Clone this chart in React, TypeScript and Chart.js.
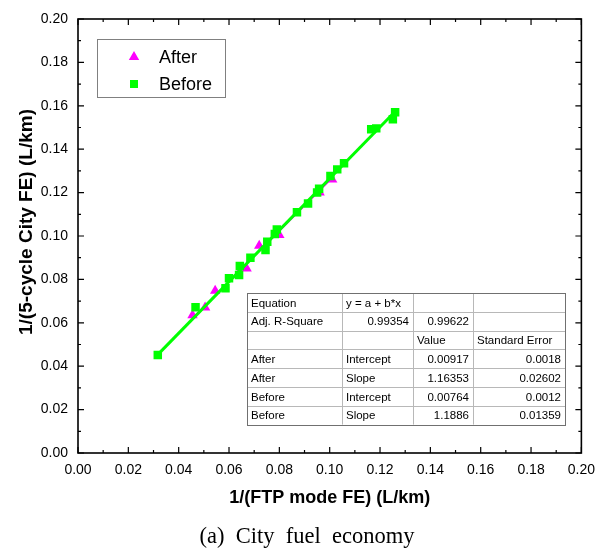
import React, { useEffect, useRef } from 'react';
import { Chart, registerables } from 'chart.js';

Chart.register(...registerables);

// ---- data ----
const afterX = [0.0455, 0.0505, 0.0545, 0.0635, 0.067, 0.072, 0.08, 0.096, 0.101];
const afterY = [0.0635, 0.067, 0.0748, 0.082, 0.085, 0.0955, 0.1005, 0.12, 0.126];

const beforeX = [0.0317, 0.0467, 0.0586, 0.06, 0.064, 0.0643, 0.0685, 0.0745, 0.0752, 0.0782, 0.079, 0.087, 0.0914, 0.095, 0.0958, 0.1003, 0.103, 0.1057, 0.1165, 0.1185, 0.1251, 0.126];
const beforeY = [0.0452, 0.0672, 0.0759, 0.0805, 0.082, 0.0862, 0.09, 0.0935, 0.0974, 0.1009, 0.103, 0.1109, 0.115, 0.12, 0.1218, 0.1276, 0.1307, 0.1335, 0.1492, 0.1496, 0.1538, 0.157];

const seriesNames = ['After', 'Before'];
const fitIntercept = [0.00917, 0.00764];
const fitSlope = [1.16353, 1.1886];
const fitInterceptSE = ['0.0018', '0.0012'];
const fitSlopeSE = ['0.02602', '0.01359'];
const adjR2 = ['0.99354', '0.99622'];

const xTickValues = [0, 0.02, 0.04, 0.06, 0.08, 0.1, 0.12, 0.14, 0.16, 0.18, 0.2];

const xTitle = '1/(FTP mode FE) (L/km)';
const yTitle = '1/(5-cycle City FE) (L/km)';
const caption = '(a)  City  fuel  economy';

const tableRows: string[][] = [
  ['Equation', 'y = a + b*x', '', ''],
  ['Adj. R-Square', adjR2[0], adjR2[1], ''],
  ['', '', 'Value', 'Standard Error'],
  [seriesNames[0], 'Intercept', fitIntercept[0].toString(), fitInterceptSE[0]],
  [seriesNames[0], 'Slope', fitSlope[0].toString(), fitSlopeSE[0]],
  [seriesNames[1], 'Intercept', fitIntercept[1].toString(), fitInterceptSE[1]],
  [seriesNames[1], 'Slope', fitSlope[1].toString(), fitSlopeSE[1]],
];

const GREEN = '#00FF00';
const MAGENTA = '#FF00FF';
const SANS = '"Liberation Sans", Arial, sans-serif';
const SERIF = '"Liberation Serif", "Times New Roman", serif';

const pts = (xs: number[], ys: number[]) => xs.map((x, i) => ({ x, y: ys[i] }));
const fitLine = (xs: number[], k: number) => {
  const lo = Math.min(...xs);
  const hi = Math.max(...xs);
  return [
    { x: lo, y: fitIntercept[k] + fitSlope[k] * lo },
    { x: hi, y: fitIntercept[k] + fitSlope[k] * hi },
  ];
};

function drawTri(ctx: CanvasRenderingContext2D, x: number, y: number, r: number) {
  ctx.beginPath();
  ctx.moveTo(x, y - r);
  ctx.lineTo(x + r * Math.sin(Math.PI / 3), y + r * 0.5);
  ctx.lineTo(x - r * Math.sin(Math.PI / 3), y + r * 0.5);
  ctx.closePath();
  ctx.fill();
}

const decorPlugin = {
  id: 'decor',
  afterDraw(chart: any) {
    const ctx: CanvasRenderingContext2D = chart.ctx;
    const { left, right, top, bottom } = chart.chartArea;
    const xs = chart.scales.x;
    const ys = chart.scales.y;
    ctx.save();
    // frame
    ctx.strokeStyle = '#000';
    ctx.lineWidth = 1.6;
    ctx.strokeRect(left, top, right - left, bottom - top);
    // ticks (inward)
    ctx.lineWidth = 1.2;
    ctx.beginPath();
    for (let i = 0; i <= 20; i++) {
      const v = i * 0.01;
      const len = i % 2 === 0 ? 6 : 3;
      const px = xs.getPixelForValue(v);
      ctx.moveTo(px, bottom); ctx.lineTo(px, bottom - len);
      ctx.moveTo(px, top); ctx.lineTo(px, top + len);
      const py = ys.getPixelForValue(v);
      ctx.moveTo(left, py); ctx.lineTo(left + len, py);
      ctx.moveTo(right, py); ctx.lineTo(right - len, py);
    }
    ctx.stroke();

    // axis titles
    ctx.fillStyle = '#000';
    ctx.font = `bold 18px ${SANS}`;
    ctx.textAlign = 'center';
    ctx.textBaseline = 'middle';
    ctx.fillText(xTitle, (left + right) / 2, 498);
    ctx.save();
    ctx.translate(27, 222);
    ctx.rotate(-Math.PI / 2);
    ctx.font = `bold 19px ${SANS}`;
    ctx.fillText(yTitle, 0, 0);
    ctx.restore();

    // caption
    ctx.font = `22.5px ${SERIF}`;
    ctx.fillText(caption, 307, 537);

    // legend
    ctx.fillStyle = '#fff';
    ctx.fillRect(97, 39, 129, 59);
    ctx.strokeStyle = '#808080';
    ctx.lineWidth = 1;
    ctx.strokeRect(97.5, 39.5, 128, 58);
    ctx.fillStyle = MAGENTA;
    drawTri(ctx, 134, 57, 6);
    ctx.fillStyle = GREEN;
    ctx.fillRect(130, 80, 8, 8);
    ctx.fillStyle = '#000';
    ctx.font = `18px ${SANS}`;
    ctx.textAlign = 'left';
    ctx.fillText(seriesNames[0], 159, 58);
    ctx.fillText(seriesNames[1], 159, 85);

    // table
    const colX = [247, 342, 413, 473, 565];
    const tTop = 293;
    const rowH = 18.8;
    const nR = tableRows.length;
    ctx.fillStyle = '#fff';
    ctx.fillRect(colX[0], tTop, colX[4] - colX[0], rowH * nR);
    ctx.strokeStyle = '#b8b8b8';
    ctx.lineWidth = 1;
    ctx.beginPath();
    for (let r = 1; r < nR; r++) {
      const y = Math.round(tTop + r * rowH) + 0.5;
      ctx.moveTo(colX[0], y); ctx.lineTo(colX[4], y);
    }
    for (let c = 1; c < 4; c++) {
      ctx.moveTo(colX[c] + 0.5, tTop); ctx.lineTo(colX[c] + 0.5, tTop + rowH * nR);
    }
    ctx.stroke();
    ctx.strokeStyle = '#707070';
    ctx.strokeRect(colX[0] + 0.5, tTop + 0.5, colX[4] - colX[0], Math.round(rowH * nR));
    ctx.font = `11.5px ${SANS}`;
    ctx.fillStyle = '#000';
    for (let r = 0; r < nR; r++) {
      for (let c = 0; c < 4; c++) {
        const t = tableRows[r][c];
        if (!t) continue;
        const numeric = /^[0-9.]+$/.test(t);
        const cy = tTop + r * rowH + rowH / 2 + 1;
        if (numeric) {
          ctx.textAlign = 'right';
          ctx.fillText(t, colX[c + 1] - 4, cy);
        } else {
          ctx.textAlign = 'left';
          ctx.fillText(t, colX[c] + 4, cy);
        }
      }
    }
    ctx.restore();
  },
};

export default function App() {
  const ref = useRef<HTMLCanvasElement>(null);
  useEffect(() => {
    if (!ref.current) return;
    const tickFont = { family: SANS, size: 14 };
    const chart = new Chart(ref.current, {
      type: 'scatter',
      data: {
        datasets: [
          {
            label: seriesNames[0],
            data: pts(afterX, afterY),
            pointStyle: 'triangle',
            pointRadius: 6,
            backgroundColor: MAGENTA,
            borderWidth: 0,
            order: 4,
          },
          {
            label: seriesNames[0] + ' fit',
            data: fitLine(afterX, 0),
            showLine: true,
            borderColor: MAGENTA,
            borderWidth: 1.5,
            pointRadius: 0,
            order: 3,
          },
          {
            label: seriesNames[1] + ' fit',
            data: fitLine(beforeX, 1),
            showLine: true,
            borderColor: GREEN,
            borderWidth: 3,
            pointRadius: 0,
            order: 2,
          },
          {
            label: seriesNames[1],
            data: pts(beforeX, beforeY),
            pointStyle: 'rect',
            pointRadius: 6,
            backgroundColor: GREEN,
            borderWidth: 0,
            order: 1,
          },
        ],
      } as any,
      options: {
        animation: false,
        responsive: false,
        maintainAspectRatio: false,
        layout: { padding: { top: 19, right: 22, left: 0, bottom: 0 } },
        plugins: { legend: { display: false }, tooltip: { enabled: false }, title: { display: false } },
        scales: {
          x: {
            type: 'linear',
            min: 0,
            max: 0.2,
            afterBuildTicks: (s: any) => { s.ticks = xTickValues.map((v) => ({ value: v })); },
            afterFit: (s: any) => { s.height = 96; },
            ticks: { font: tickFont, color: '#000', padding: 9, maxRotation: 0, autoSkip: false, callback: (v: any) => Number(v).toFixed(2) },
            grid: { display: false, drawTicks: false },
            border: { display: false },
          },
          y: {
            type: 'linear',
            min: 0,
            max: 0.2,
            afterBuildTicks: (s: any) => { s.ticks = xTickValues.map((v) => ({ value: v })); },
            afterFit: (s: any) => { s.width = 78; },
            ticks: { font: tickFont, color: '#000', padding: 10, autoSkip: false, callback: (v: any) => Number(v).toFixed(2) },
            grid: { display: false, drawTicks: false },
            border: { display: false },
          },
        },
      } as any,
      plugins: [decorPlugin],
    });
    return () => chart.destroy();
  }, []);
  return (
    <div style={{ position: 'fixed', left: 0, top: 0, width: 604, height: 549, background: '#fff' }}>
      <canvas ref={ref} width={604} height={549} style={{ display: 'block' }} />
    </div>
  );
}
